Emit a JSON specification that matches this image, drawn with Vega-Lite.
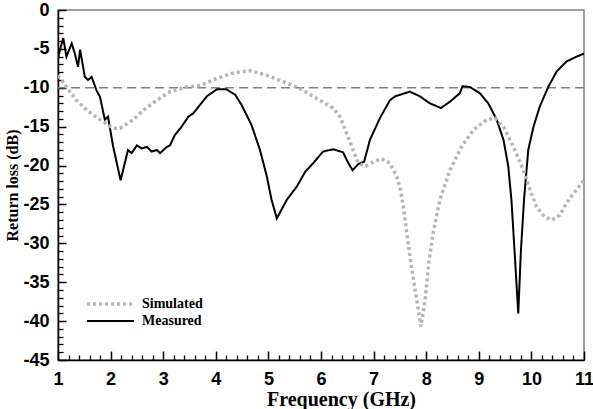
{
  "$schema": "https://vega.github.io/schema/vega-lite/v6.json",
  "width": 526,
  "height": 350,
  "autosize": {"type": "none"},
  "padding": {"left": 58, "top": 10, "right": 9, "bottom": 49},
  "background": "white",
  "config": {
    "view": {"stroke": "#808080", "strokeWidth": 1.5},
    "axis": {"grid": false, "zindex": 1}
  },
  "datasets": {
    "curves": [
      {"series": "Measured", "f": 1.0, "rl": -6.2},
      {"series": "Measured", "f": 1.05, "rl": -4.8},
      {"series": "Measured", "f": 1.1, "rl": -3.6},
      {"series": "Measured", "f": 1.16, "rl": -6.0},
      {"series": "Measured", "f": 1.26, "rl": -4.3},
      {"series": "Measured", "f": 1.32, "rl": -5.6},
      {"series": "Measured", "f": 1.38, "rl": -7.3},
      {"series": "Measured", "f": 1.42, "rl": -5.1},
      {"series": "Measured", "f": 1.51, "rl": -8.6},
      {"series": "Measured", "f": 1.57, "rl": -9.0},
      {"series": "Measured", "f": 1.64, "rl": -8.6},
      {"series": "Measured", "f": 1.73, "rl": -10.3},
      {"series": "Measured", "f": 1.8, "rl": -11.2},
      {"series": "Measured", "f": 1.89, "rl": -14.1},
      {"series": "Measured", "f": 1.95, "rl": -13.7},
      {"series": "Measured", "f": 2.05, "rl": -17.6},
      {"series": "Measured", "f": 2.19, "rl": -21.9},
      {"series": "Measured", "f": 2.33, "rl": -18.0},
      {"series": "Measured", "f": 2.4, "rl": -18.4},
      {"series": "Measured", "f": 2.5, "rl": -17.4},
      {"series": "Measured", "f": 2.59, "rl": -17.8},
      {"series": "Measured", "f": 2.69, "rl": -17.6},
      {"series": "Measured", "f": 2.78, "rl": -18.2},
      {"series": "Measured", "f": 2.88, "rl": -18.0},
      {"series": "Measured", "f": 2.94, "rl": -18.4},
      {"series": "Measured", "f": 3.07, "rl": -17.6},
      {"series": "Measured", "f": 3.13, "rl": -17.4},
      {"series": "Measured", "f": 3.22, "rl": -16.1},
      {"series": "Measured", "f": 3.35, "rl": -15.0},
      {"series": "Measured", "f": 3.48, "rl": -13.7},
      {"series": "Measured", "f": 3.57, "rl": -13.3},
      {"series": "Measured", "f": 3.7, "rl": -12.2},
      {"series": "Measured", "f": 3.83, "rl": -11.1},
      {"series": "Measured", "f": 4.02, "rl": -10.2},
      {"series": "Measured", "f": 4.2, "rl": -10.2},
      {"series": "Measured", "f": 4.37, "rl": -10.9},
      {"series": "Measured", "f": 4.49, "rl": -12.2},
      {"series": "Measured", "f": 4.68, "rl": -14.8},
      {"series": "Measured", "f": 4.84, "rl": -18.0},
      {"series": "Measured", "f": 4.97, "rl": -21.4},
      {"series": "Measured", "f": 5.06, "rl": -24.4},
      {"series": "Measured", "f": 5.16, "rl": -26.8},
      {"series": "Measured", "f": 5.35, "rl": -24.4},
      {"series": "Measured", "f": 5.54, "rl": -22.7},
      {"series": "Measured", "f": 5.7, "rl": -20.8},
      {"series": "Measured", "f": 5.85, "rl": -19.7},
      {"series": "Measured", "f": 6.04, "rl": -18.2},
      {"series": "Measured", "f": 6.23, "rl": -17.9},
      {"series": "Measured", "f": 6.42, "rl": -18.3},
      {"series": "Measured", "f": 6.52, "rl": -19.7},
      {"series": "Measured", "f": 6.6, "rl": -20.6},
      {"series": "Measured", "f": 6.71, "rl": -19.8},
      {"series": "Measured", "f": 6.82, "rl": -19.5},
      {"series": "Measured", "f": 6.93, "rl": -16.7},
      {"series": "Measured", "f": 7.12, "rl": -13.9},
      {"series": "Measured", "f": 7.31, "rl": -11.6},
      {"series": "Measured", "f": 7.41, "rl": -11.1},
      {"series": "Measured", "f": 7.5, "rl": -10.9},
      {"series": "Measured", "f": 7.69, "rl": -10.5},
      {"series": "Measured", "f": 7.88, "rl": -11.1},
      {"series": "Measured", "f": 8.07, "rl": -12.0},
      {"series": "Measured", "f": 8.28, "rl": -12.6},
      {"series": "Measured", "f": 8.45, "rl": -11.8},
      {"series": "Measured", "f": 8.64, "rl": -10.7},
      {"series": "Measured", "f": 8.69, "rl": -9.8},
      {"series": "Measured", "f": 8.83, "rl": -9.9},
      {"series": "Measured", "f": 9.02, "rl": -10.7},
      {"series": "Measured", "f": 9.18, "rl": -12.0},
      {"series": "Measured", "f": 9.34, "rl": -14.1},
      {"series": "Measured", "f": 9.47, "rl": -16.7},
      {"series": "Measured", "f": 9.56, "rl": -20.1},
      {"series": "Measured", "f": 9.62, "rl": -24.4},
      {"series": "Measured", "f": 9.68, "rl": -31.0},
      {"series": "Measured", "f": 9.75, "rl": -39.0},
      {"series": "Measured", "f": 9.8, "rl": -31.0},
      {"series": "Measured", "f": 9.86, "rl": -24.4},
      {"series": "Measured", "f": 9.94, "rl": -18.0},
      {"series": "Measured", "f": 10.04, "rl": -15.0},
      {"series": "Measured", "f": 10.16, "rl": -12.4},
      {"series": "Measured", "f": 10.32, "rl": -9.9},
      {"series": "Measured", "f": 10.48, "rl": -7.9},
      {"series": "Measured", "f": 10.67, "rl": -6.6},
      {"series": "Measured", "f": 10.86, "rl": -6.0},
      {"series": "Measured", "f": 11.0, "rl": -5.6},
      {"series": "Simulated", "f": 1.0, "rl": -8.4},
      {"series": "Simulated", "f": 1.16, "rl": -9.9},
      {"series": "Simulated", "f": 1.35, "rl": -11.6},
      {"series": "Simulated", "f": 1.55, "rl": -12.9},
      {"series": "Simulated", "f": 1.8, "rl": -14.1},
      {"series": "Simulated", "f": 2.05, "rl": -15.2},
      {"series": "Simulated", "f": 2.18, "rl": -15.2},
      {"series": "Simulated", "f": 2.43, "rl": -14.1},
      {"series": "Simulated", "f": 2.62, "rl": -12.9},
      {"series": "Simulated", "f": 2.88, "rl": -11.6},
      {"series": "Simulated", "f": 3.13, "rl": -10.5},
      {"series": "Simulated", "f": 3.45, "rl": -9.9},
      {"series": "Simulated", "f": 3.7, "rl": -9.7},
      {"series": "Simulated", "f": 4.02, "rl": -8.8},
      {"series": "Simulated", "f": 4.33, "rl": -8.1},
      {"series": "Simulated", "f": 4.65, "rl": -7.8},
      {"series": "Simulated", "f": 4.97, "rl": -8.4},
      {"series": "Simulated", "f": 5.28, "rl": -9.2},
      {"series": "Simulated", "f": 5.6, "rl": -10.1},
      {"series": "Simulated", "f": 5.92, "rl": -11.4},
      {"series": "Simulated", "f": 6.23, "rl": -12.6},
      {"series": "Simulated", "f": 6.36, "rl": -13.7},
      {"series": "Simulated", "f": 6.49, "rl": -15.9},
      {"series": "Simulated", "f": 6.61, "rl": -18.0},
      {"series": "Simulated", "f": 6.71, "rl": -19.7},
      {"series": "Simulated", "f": 6.84, "rl": -20.1},
      {"series": "Simulated", "f": 7.0, "rl": -19.5},
      {"series": "Simulated", "f": 7.15, "rl": -19.1},
      {"series": "Simulated", "f": 7.31, "rl": -19.7},
      {"series": "Simulated", "f": 7.44, "rl": -21.4},
      {"series": "Simulated", "f": 7.5, "rl": -22.7},
      {"series": "Simulated", "f": 7.56, "rl": -25.0},
      {"series": "Simulated", "f": 7.63, "rl": -28.7},
      {"series": "Simulated", "f": 7.72, "rl": -33.0},
      {"series": "Simulated", "f": 7.82, "rl": -37.3},
      {"series": "Simulated", "f": 7.9, "rl": -40.7},
      {"series": "Simulated", "f": 7.98, "rl": -37.3},
      {"series": "Simulated", "f": 8.04, "rl": -33.0},
      {"series": "Simulated", "f": 8.13, "rl": -28.7},
      {"series": "Simulated", "f": 8.26, "rl": -24.4},
      {"series": "Simulated", "f": 8.45, "rl": -20.6},
      {"series": "Simulated", "f": 8.67, "rl": -17.6},
      {"series": "Simulated", "f": 8.9, "rl": -15.4},
      {"series": "Simulated", "f": 9.15, "rl": -14.1},
      {"series": "Simulated", "f": 9.31, "rl": -13.9},
      {"series": "Simulated", "f": 9.47, "rl": -15.0},
      {"series": "Simulated", "f": 9.66, "rl": -17.6},
      {"series": "Simulated", "f": 9.85, "rl": -20.6},
      {"series": "Simulated", "f": 10.0, "rl": -23.6},
      {"series": "Simulated", "f": 10.1, "rl": -25.3},
      {"series": "Simulated", "f": 10.25, "rl": -26.6},
      {"series": "Simulated", "f": 10.39, "rl": -27.0},
      {"series": "Simulated", "f": 10.54, "rl": -26.4},
      {"series": "Simulated", "f": 10.67, "rl": -24.8},
      {"series": "Simulated", "f": 10.8, "rl": -23.6},
      {"series": "Simulated", "f": 11.0, "rl": -21.9}
    ]
  },
  "layer": [
    {
      "data": {"values": [{"rl": -10}]},
      "mark": {"type": "rule", "color": "#808080", "strokeWidth": 1.5, "strokeDash": [9, 5]},
      "encoding": {
        "y": {"field": "rl", "type": "quantitative", "axis": null}
      }
    },
    {
      "data": {"name": "curves"},
      "mark": {"type": "line", "clip": true},
      "encoding": {
        "x": {
          "field": "f", "type": "quantitative",
          "scale": {"domain": [1, 11], "nice": false, "zero": false},
          "axis": {
            "orient": "bottom", "domainColor": "#000000", "domainWidth": 1.5,
            "ticks": false, "labels": false, "title": null
          }
        },
        "y": {
          "field": "rl", "type": "quantitative",
          "scale": {"domain": [-45, 0], "nice": false, "zero": false},
          "axis": {
            "orient": "left", "domainColor": "#000000", "domainWidth": 1.5,
            "ticks": false, "labels": false, "title": null
          }
        },
        "color": {
          "field": "series", "type": "nominal",
          "scale": {"domain": ["Simulated", "Measured"], "range": ["#b5b5b5", "#000000"]},
          "legend": {
            "title": null, "orient": "none", "legendX": 27, "legendY": 286,
            "symbolType": "stroke", "symbolSize": 2200, "symbolStrokeWidth": 2,
            "clipHeight": 16, "rowPadding": 1,
            "labelFont": "Liberation Serif", "labelFontWeight": "bold", "labelFontSize": 14, "labelColor": "#000000",
            "labelOffset": 6
          }
        },
        "strokeDash": {
          "field": "series", "type": "nominal",
          "scale": {"domain": ["Simulated", "Measured"], "range": [[3, 3], [1, 0]]},
          "legend": null
        },
        "strokeWidth": {
          "field": "series", "type": "nominal",
          "scale": {"domain": ["Simulated", "Measured"], "range": [3.5, 2]},
          "legend": null
        }
      }
    },
    {
      "data": {"name": "curves"},
      "mark": {"type": "point", "opacity": 0},
      "encoding": {
        "x": {
          "field": "f", "type": "quantitative",
          "axis": {
            "orient": "bottom", "offset": -9,
            "values": [1, 2, 3, 4, 5, 6, 7, 8, 9, 10, 11],
            "domain": false, "ticks": true,
            "tickSize": 9, "tickColor": "#000000", "tickWidth": 1.5,
            "labelFont": "Liberation Sans", "labelFontWeight": "bold", "labelFontSize": 18, "labelColor": "#000000",
            "labelPadding": 10, "labelFlush": false, "labelOverlap": false,
            "title": "Frequency (GHz)", "titleX": 283,
            "titleFont": "Liberation Serif", "titleFontWeight": "bold", "titleFontSize": 20, "titleColor": "#000000",
            "titlePadding": 1
          }
        },
        "y": {
          "field": "rl", "type": "quantitative",
          "axis": {
            "orient": "left", "offset": -8,
            "values": [-45, -40, -35, -30, -25, -20, -15, -10, -5, 0],
            "labelExpr": "datum.value < 0 ? '-' + abs(datum.value) : '' + datum.value",
            "domain": false, "ticks": true,
            "tickSize": 8, "tickColor": "#000000", "tickWidth": 1.5,
            "labelFont": "Liberation Sans", "labelFontWeight": "bold", "labelFontSize": 18, "labelColor": "#000000",
            "labelPadding": 9, "labelFlush": false, "labelOverlap": false,
            "title": "Return loss (dB)",
            "titleFont": "Liberation Serif", "titleFontWeight": "bold", "titleFontSize": 16, "titleColor": "#000000",
            "titlePadding": 2
          }
        }
      }
    },
    {
      "data": {"name": "curves"},
      "mark": {"type": "point", "opacity": 0},
      "encoding": {
        "x": {
          "field": "f", "type": "quantitative",
          "axis": {
            "orient": "bottom", "offset": -5,
            "values": [1.2, 1.4, 1.6, 1.8, 2.2, 2.4, 2.6, 2.8, 3.2, 3.4, 3.6, 3.8, 4.2, 4.4, 4.6, 4.8, 5.2, 5.4, 5.6, 5.8, 6.2, 6.4, 6.6, 6.8, 7.2, 7.4, 7.6, 7.8, 8.2, 8.4, 8.6, 8.8, 9.2, 9.4, 9.6, 9.8, 10.2, 10.4, 10.6, 10.8],
            "domain": false, "ticks": true,
            "tickSize": 5, "tickColor": "#000000", "tickWidth": 1.3,
            "labels": false, "title": null
          }
        },
        "y": {
          "field": "rl", "type": "quantitative",
          "axis": {
            "orient": "left", "offset": -5,
            "values": [-44, -43, -42, -41, -39, -38, -37, -36, -34, -33, -32, -31, -29, -28, -27, -26, -24, -23, -22, -21, -19, -18, -17, -16, -14, -13, -12, -11, -9, -8, -7, -6, -4, -3, -2, -1],
            "domain": false, "ticks": true,
            "tickSize": 5, "tickColor": "#000000", "tickWidth": 1.3,
            "labels": false, "title": null
          }
        }
      }
    }
  ],
  "resolve": {"axis": {"x": "independent", "y": "independent"}}
}
